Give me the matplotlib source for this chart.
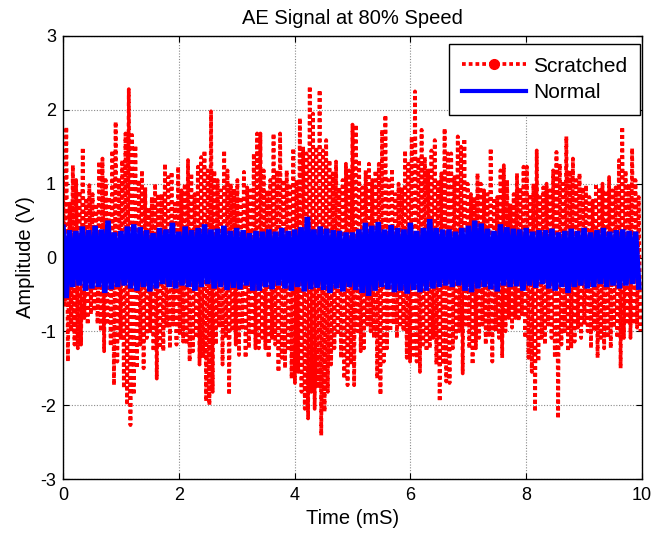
import numpy as np
import matplotlib
matplotlib.use("Agg")
import matplotlib.pyplot as plt
from matplotlib.lines import Line2D

plt.rcParams['font.family'] = ['Liberation Sans', 'DejaVu Sans']
plt.rcParams['axes.unicode_minus'] = False

# Scratched signal: upper and lower peak values read along the time axis (0..10 mS)
scratched_up = [
    1.05, 1.77, 0.73, 1.25, 1.05, 0.90, 1.49, 0.77, 0.98, 0.86,
    0.73, 1.30, 1.34, 1.05, 0.82, 1.45, 1.84, 1.05, 1.32, 1.68,
    2.28, 1.66, 1.52, 1.05, 1.18, 0.95, 0.68, 0.82, 1.00, 0.86,
    0.86, 1.27, 1.09, 1.16, 0.73, 1.23, 0.91, 1.00, 1.32, 1.14,
    0.86, 1.23, 1.36, 1.45, 1.18, 1.98, 1.18, 1.05, 0.91, 1.45,
    1.18, 1.00, 0.93, 1.05, 0.82, 1.16, 0.95, 0.91, 1.41, 1.68,
    1.68, 1.18, 0.91, 1.05, 1.68, 1.18, 1.68, 1.05, 1.18, 1.00,
    1.48, 1.05, 1.89, 1.50, 1.41, 2.32, 1.95, 1.50, 2.27, 1.45,
    1.59, 1.32, 1.14, 1.30, 0.95, 1.05, 1.27, 1.18, 1.80, 1.80,
    1.32, 0.95, 1.18, 1.27, 1.05, 1.18, 1.27, 1.73, 1.93, 1.05,
    1.20, 0.86, 1.00, 0.95, 1.45, 1.27, 1.64, 2.25, 1.36, 1.73,
    1.36, 1.18, 1.45, 1.59, 1.05, 1.14, 1.75, 1.41, 1.41, 1.09,
    1.64, 1.50, 1.61, 1.00, 0.86, 0.82, 1.14, 1.00, 0.91, 0.86,
    1.48, 0.77, 0.82, 1.18, 1.25, 1.05, 0.73, 0.86, 1.14, 0.95,
    1.23, 1.23, 0.86, 1.00, 1.45, 0.82, 0.95, 1.00, 0.91, 1.18,
    1.43, 1.27, 1.00, 1.64, 1.18, 1.34, 1.05, 1.14, 0.95, 0.98,
    0.82, 0.77, 1.00, 0.95, 1.00, 0.91, 1.09, 0.91, 0.95, 1.32,
    1.77, 1.18, 1.00, 1.48, 1.05, 0.82,
]
scratched_lo = [
    -0.64, -1.41, -1.00, -1.18, -1.23, -1.18, -0.82, -0.91, -0.77, -0.73,
    -0.90, -1.00, -1.27, -0.91, -1.20, -1.73, -1.41, -1.09, -1.77, -2.00,
    -2.27, -1.86, -1.50, -1.18, -1.50, -1.09, -1.00, -1.27, -1.64, -1.23,
    -1.27, -0.95, -1.23, -0.91, -1.18, -1.05, -1.14, -1.18, -1.41, -1.27,
    -1.09, -1.45, -1.36, -1.95, -2.00, -1.82, -1.18, -0.95, -1.45, -1.09,
    -1.86, -1.00, -1.18, -1.32, -0.95, -1.36, -1.23, -1.05, -1.23, -1.23,
    -1.09, -1.23, -1.36, -1.09, -1.18, -1.55, -1.36, -1.50, -1.23, -1.64,
    -1.70, -1.55, -1.82, -2.05, -2.18, -1.82, -2.05, -1.77, -2.41, -2.09,
    -1.82, -1.45, -1.23, -1.05, -1.36, -1.64, -1.73, -1.45, -1.73, -1.00,
    -1.27, -1.23, -0.91, -1.00, -1.09, -1.64, -1.86, -1.41, -1.23, -1.00,
    -0.91, -1.09, -0.95, -1.00, -1.36, -1.41, -1.32, -1.41, -1.55, -1.18,
    -1.27, -1.23, -1.09, -1.45, -1.95, -1.45, -1.68, -1.70, -1.23, -1.09,
    -1.00, -1.57, -0.91, -1.23, -1.45, -1.23, -1.09, -0.91, -1.18, -1.05,
    -1.41, -1.00, -1.09, -1.36, -1.00, -0.82, -0.95, -0.82, -0.86, -0.77,
    -1.09, -1.36, -1.55, -2.09, -1.41, -1.09, -1.18, -0.91, -1.09, -1.36,
    -2.18, -1.18, -1.00, -1.27, -1.23, -1.14, -0.95, -1.09, -0.91, -1.00,
    -1.23, -1.00, -1.36, -1.09, -1.23, -1.09, -1.23, -0.95, -1.09, -1.50,
    -1.09, -0.91, -1.09, -0.91, -0.95, -1.00,
]

# Normal signal: upper and lower peak values
normal_up = [
    0.41, 0.37, 0.36, 0.42, 0.37, 0.43, 0.38, 0.50, 0.34, 0.36, 0.42, 0.45, 0.41, 0.37, 0.33,
    0.40, 0.38, 0.47, 0.35, 0.42, 0.37, 0.40, 0.45, 0.38, 0.39, 0.43, 0.36, 0.40, 0.37, 0.33,
    0.36, 0.35, 0.38, 0.35, 0.40, 0.36, 0.38, 0.41, 0.55, 0.38, 0.42, 0.39, 0.37, 0.36, 0.34,
    0.34, 0.38, 0.47, 0.43, 0.48, 0.38, 0.44, 0.40, 0.38, 0.47, 0.36, 0.40, 0.52, 0.40, 0.38,
    0.38, 0.35, 0.40, 0.43, 0.50, 0.46, 0.39, 0.36, 0.45, 0.41, 0.39, 0.38, 0.40, 0.35, 0.37,
    0.37, 0.39, 0.34, 0.36, 0.39, 0.36, 0.40, 0.34, 0.37, 0.40, 0.35, 0.37, 0.38, 0.36, 0.35,
]
normal_lo = [
    -0.55, -0.40, -0.38, -0.45, -0.42, -0.40, -0.48, -0.43, -0.40, -0.38, -0.42, -0.45, -0.40, -0.46, -0.42,
    -0.36, -0.40, -0.42, -0.38, -0.40, -0.45, -0.40, -0.36, -0.42, -0.40, -0.44, -0.41, -0.43, -0.38, -0.45,
    -0.45, -0.40, -0.43, -0.38, -0.42, -0.45, -0.40, -0.46, -0.43, -0.41, -0.44, -0.48, -0.42, -0.46, -0.40,
    -0.44, -0.48, -0.52, -0.45, -0.40, -0.43, -0.47, -0.45, -0.49, -0.44, -0.47, -0.45, -0.42, -0.40, -0.38,
    -0.40, -0.38, -0.45, -0.47, -0.42, -0.40, -0.43, -0.46, -0.38, -0.40, -0.39, -0.45, -0.38, -0.41, -0.36,
    -0.42, -0.45, -0.40, -0.48, -0.40, -0.38, -0.42, -0.40, -0.36, -0.40, -0.38, -0.42, -0.38, -0.36, -0.40,
]

x_ticks = [0, 2, 4, 6, 8, 10]
y_ticks = [-3, -2, -1, 0, 1, 2, 3]


def interleave(up, lo, t0=0.0, t1=10.0):
    n = len(up)
    t = np.linspace(t0, t1, n + 1)
    tm = t[:-1]
    th = tm + (t[1] - t[0]) / 2
    tt = np.empty(2 * n)
    yy = np.empty(2 * n)
    tt[0::2] = tm
    tt[1::2] = th
    yy[0::2] = up
    yy[1::2] = lo
    return tt, yy


fig = plt.figure(figsize=(6.53, 5.38), dpi=100)
ax = fig.add_axes([63 / 653, 59 / 538, 579 / 653, 443 / 538])

ts, ys = interleave(scratched_up, scratched_lo)
tn, yn = interleave(normal_up, normal_lo)

ax.plot(ts, ys, color='#ff0000', lw=2.7, linestyle=(0, (1, 0.8)))
ax.plot(tn, yn, color='#0000ff', lw=4.0, solid_joinstyle='miter')

ax.set_xlim(0, 10)
ax.set_ylim(-3, 3)
ax.set_xticks(x_ticks)
ax.set_yticks(y_ticks)
ax.tick_params(direction='in', top=True, right=True, labelsize=13, length=4, width=0.8)
ax.tick_params(axis='x', pad=6)
ax.tick_params(axis='y', pad=5)
ax.grid(True, color='#8a8a8a', linestyle=(0, (1, 1.5)), linewidth=0.8)
for s in ax.spines.values():
    s.set_linewidth(1.0)

ax.set_title('AE Signal at 80% Speed', fontsize=14.5, pad=9)
ax.set_xlabel('Time (mS)', fontsize=14.5, labelpad=3)
ax.set_ylabel('Amplitude (V)', fontsize=14.5, labelpad=4)

handles = [
    Line2D([], [], color='#ff0000', lw=2.7, linestyle=(0, (1, 0.8)), marker='o', ms=7),
    Line2D([], [], color='#0000ff', lw=3.0),
]
leg = ax.legend(handles, ['Scratched', 'Normal'], loc='upper right',
                bbox_to_anchor=(577 / 579, (479 - 44) / 443), borderaxespad=0,
                fontsize=15, fancybox=False, edgecolor='black', framealpha=1,
                handlelength=3.1, handletextpad=0.35, numpoints=1,
                borderpad=0.6, labelspacing=0.38)
leg.get_frame().set_linewidth(1.0)

fig.savefig('out.png', dpi=100)
